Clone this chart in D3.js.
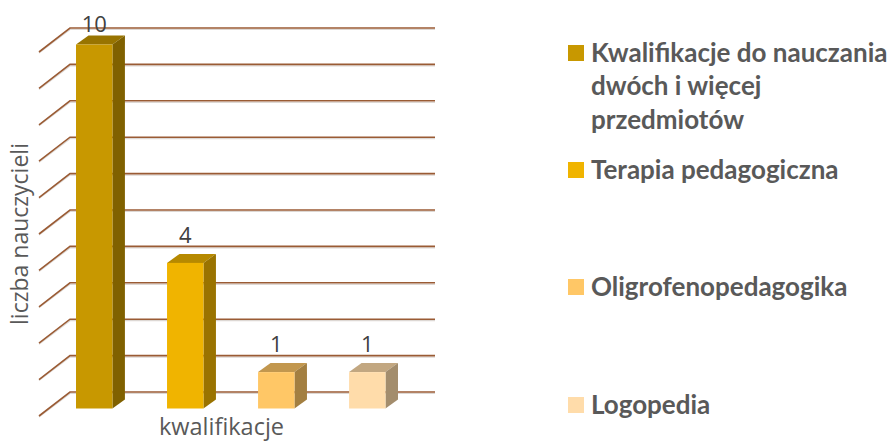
<!DOCTYPE html>
<html>
<head>
<meta charset="utf-8">
<script src="https://cdn.jsdelivr.net/npm/d3@7"></script>
<style>
  html, body { margin: 0; padding: 0; background: #fff; }
  text { font-family: "Open Sans", sans-serif; fill: #595959; }
  .legend-text { font-family: Lato, sans-serif; }
</style>
</head>
<body>
<svg id="chart"></svg>
<script>
// values
let series = ["Kwalifikacje do nauczania", "Terapia pedagogiczna", "Oligrofenopedagogika", "Logopedia"];
let values = [10, 4, 1, 1];
let yTicks = [0, 1, 2, 3, 4, 5, 6, 7, 8, 9, 10];
let legendLines = [
    ["Kwalifikacje do nauczania", "dwóch i więcej", "przedmiotów"],
    ["Terapia pedagogiczna"],
    ["Oligrofenopedagogika"],
    ["Logopedia"]
];
let colors = ["#c89800", "#f0b400", "#ffc766", "#ffdcaa"];

let svgW = 893, svgH = 441;

// 3d offsets of the box: bar depth and wall depth
let barDx = 12.5, barDy = 9;
let wallLeft = 39, wallBack = 70, gridRight = 435;
let wallFront = 7.5, wallRear = 16.5;

let svg = d3.select("#chart")
    .attr("width", svgW)
    .attr("height", svgH)
    .style("display", "block");

let xScale = d3.scaleBand()
    .domain(series)
    .range([48.7, 412.8])
    .paddingInner(0.6)
    .paddingOuter(0.3);

let yScale = d3.scaleLinear()
    .domain([0, 10])
    .range([408.5, 44.5]);

let colorScale = d3.scaleOrdinal()
    .domain(series)
    .range(colors);

// gridlines, with the faint shadow under them
let grid = svg.append("g").selectAll("g")
    .data(yTicks)
    .enter()
    .append("g");

grid.append("polyline")
    .attr("points", function (d) {
        let y = yScale(d);
        return [[wallLeft, y + wallFront + 1], [wallBack, y - wallRear + 1.5], [gridRight, y - wallRear + 1.5]].join(" ");
    })
    .attr("fill", "none")
    .attr("stroke", "#ddd8d4")
    .attr("stroke-width", 1.2);

grid.append("polyline")
    .attr("points", function (d) {
        let y = yScale(d);
        return [[wallLeft, y + wallFront], [wallBack, y - wallRear], [gridRight, y - wallRear]].join(" ");
    })
    .attr("fill", "none")
    .attr("stroke", "#9a5b34")
    .attr("stroke-width", 1.6);

let bars = svg.append("g").selectAll("g")
    .data(series)
    .enter()
    .append("g");

function shade(name, k) {
    let c = d3.rgb(colorScale(name));
    return d3.rgb(c.r * k, c.g * k, c.b * k).formatHex();
}

// top face
bars.append("polygon")
    .attr("points", function (d, i) {
        let x0 = xScale(d), x1 = x0 + xScale.bandwidth(), y = yScale(values[i]);
        return [[x0, y], [x0 + barDx, y - barDy], [x1 + barDx, y - barDy], [x1, y]].join(" ");
    })
    .attr("fill", function (d) { return shade(d, 0.76); });

// side face
bars.append("polygon")
    .attr("points", function (d, i) {
        let x1 = xScale(d) + xScale.bandwidth(), y = yScale(values[i]), y0 = yScale(0);
        return [[x1, y], [x1 + barDx, y - barDy], [x1 + barDx, y0 - barDy], [x1, y0]].join(" ");
    })
    .attr("fill", function (d) { return shade(d, 0.64); });

// front face
bars.append("rect")
    .attr("x", function (d) { return xScale(d); })
    .attr("y", function (d, i) { return yScale(values[i]); })
    .attr("width", xScale.bandwidth())
    .attr("height", function (d, i) { return yScale(0) - yScale(values[i]); })
    .attr("fill", function (d) { return colorScale(d); });

// value labels, the tallest one is held inside the plot
bars.append("text")
    .attr("x", function (d) { return xScale(d) + xScale.bandwidth() / 2; })
    .attr("y", function (d, i) { return Math.max(yScale(values[i]) - 20, 31.5); })
    .attr("text-anchor", "middle")
    .style("font-size", "22px")
    .style("fill", "#404040")
    .text(function (d, i) { return values[i]; });

svg.append("text")
    .attr("transform", "translate(28,234) rotate(-90)")
    .attr("text-anchor", "middle")
    .style("font-size", "23px")
    .text("liczba nauczycieli");

svg.append("text")
    .attr("x", 221.5)
    .attr("y", 435)
    .attr("text-anchor", "middle")
    .style("font-size", "23.5px")
    .text("kwalifikacje");

// legend
let legendY = [61, 178, 295, 413];

let legend = svg.append("g").selectAll("g")
    .data(series)
    .enter()
    .append("g")
    .attr("transform", function (d, i) { return "translate(568," + legendY[i] + ")"; });

legend.append("rect")
    .attr("y", -16)
    .attr("width", 16)
    .attr("height", 16)
    .attr("fill", function (d) { return colorScale(d); });

legend.append("text")
    .attr("class", "legend-text")
    .attr("y", 1)
    .style("font-size", "26px")
    .style("font-weight", "700")
    .selectAll("tspan")
    .data(function (d, i) { return legendLines[i]; })
    .enter()
    .append("tspan")
    .attr("x", 23)
    .attr("dy", function (d, i) { return i == 0 ? 0 : 33.3; })
    .text(function (d) { return d; });
</script>
</body>
</html>
